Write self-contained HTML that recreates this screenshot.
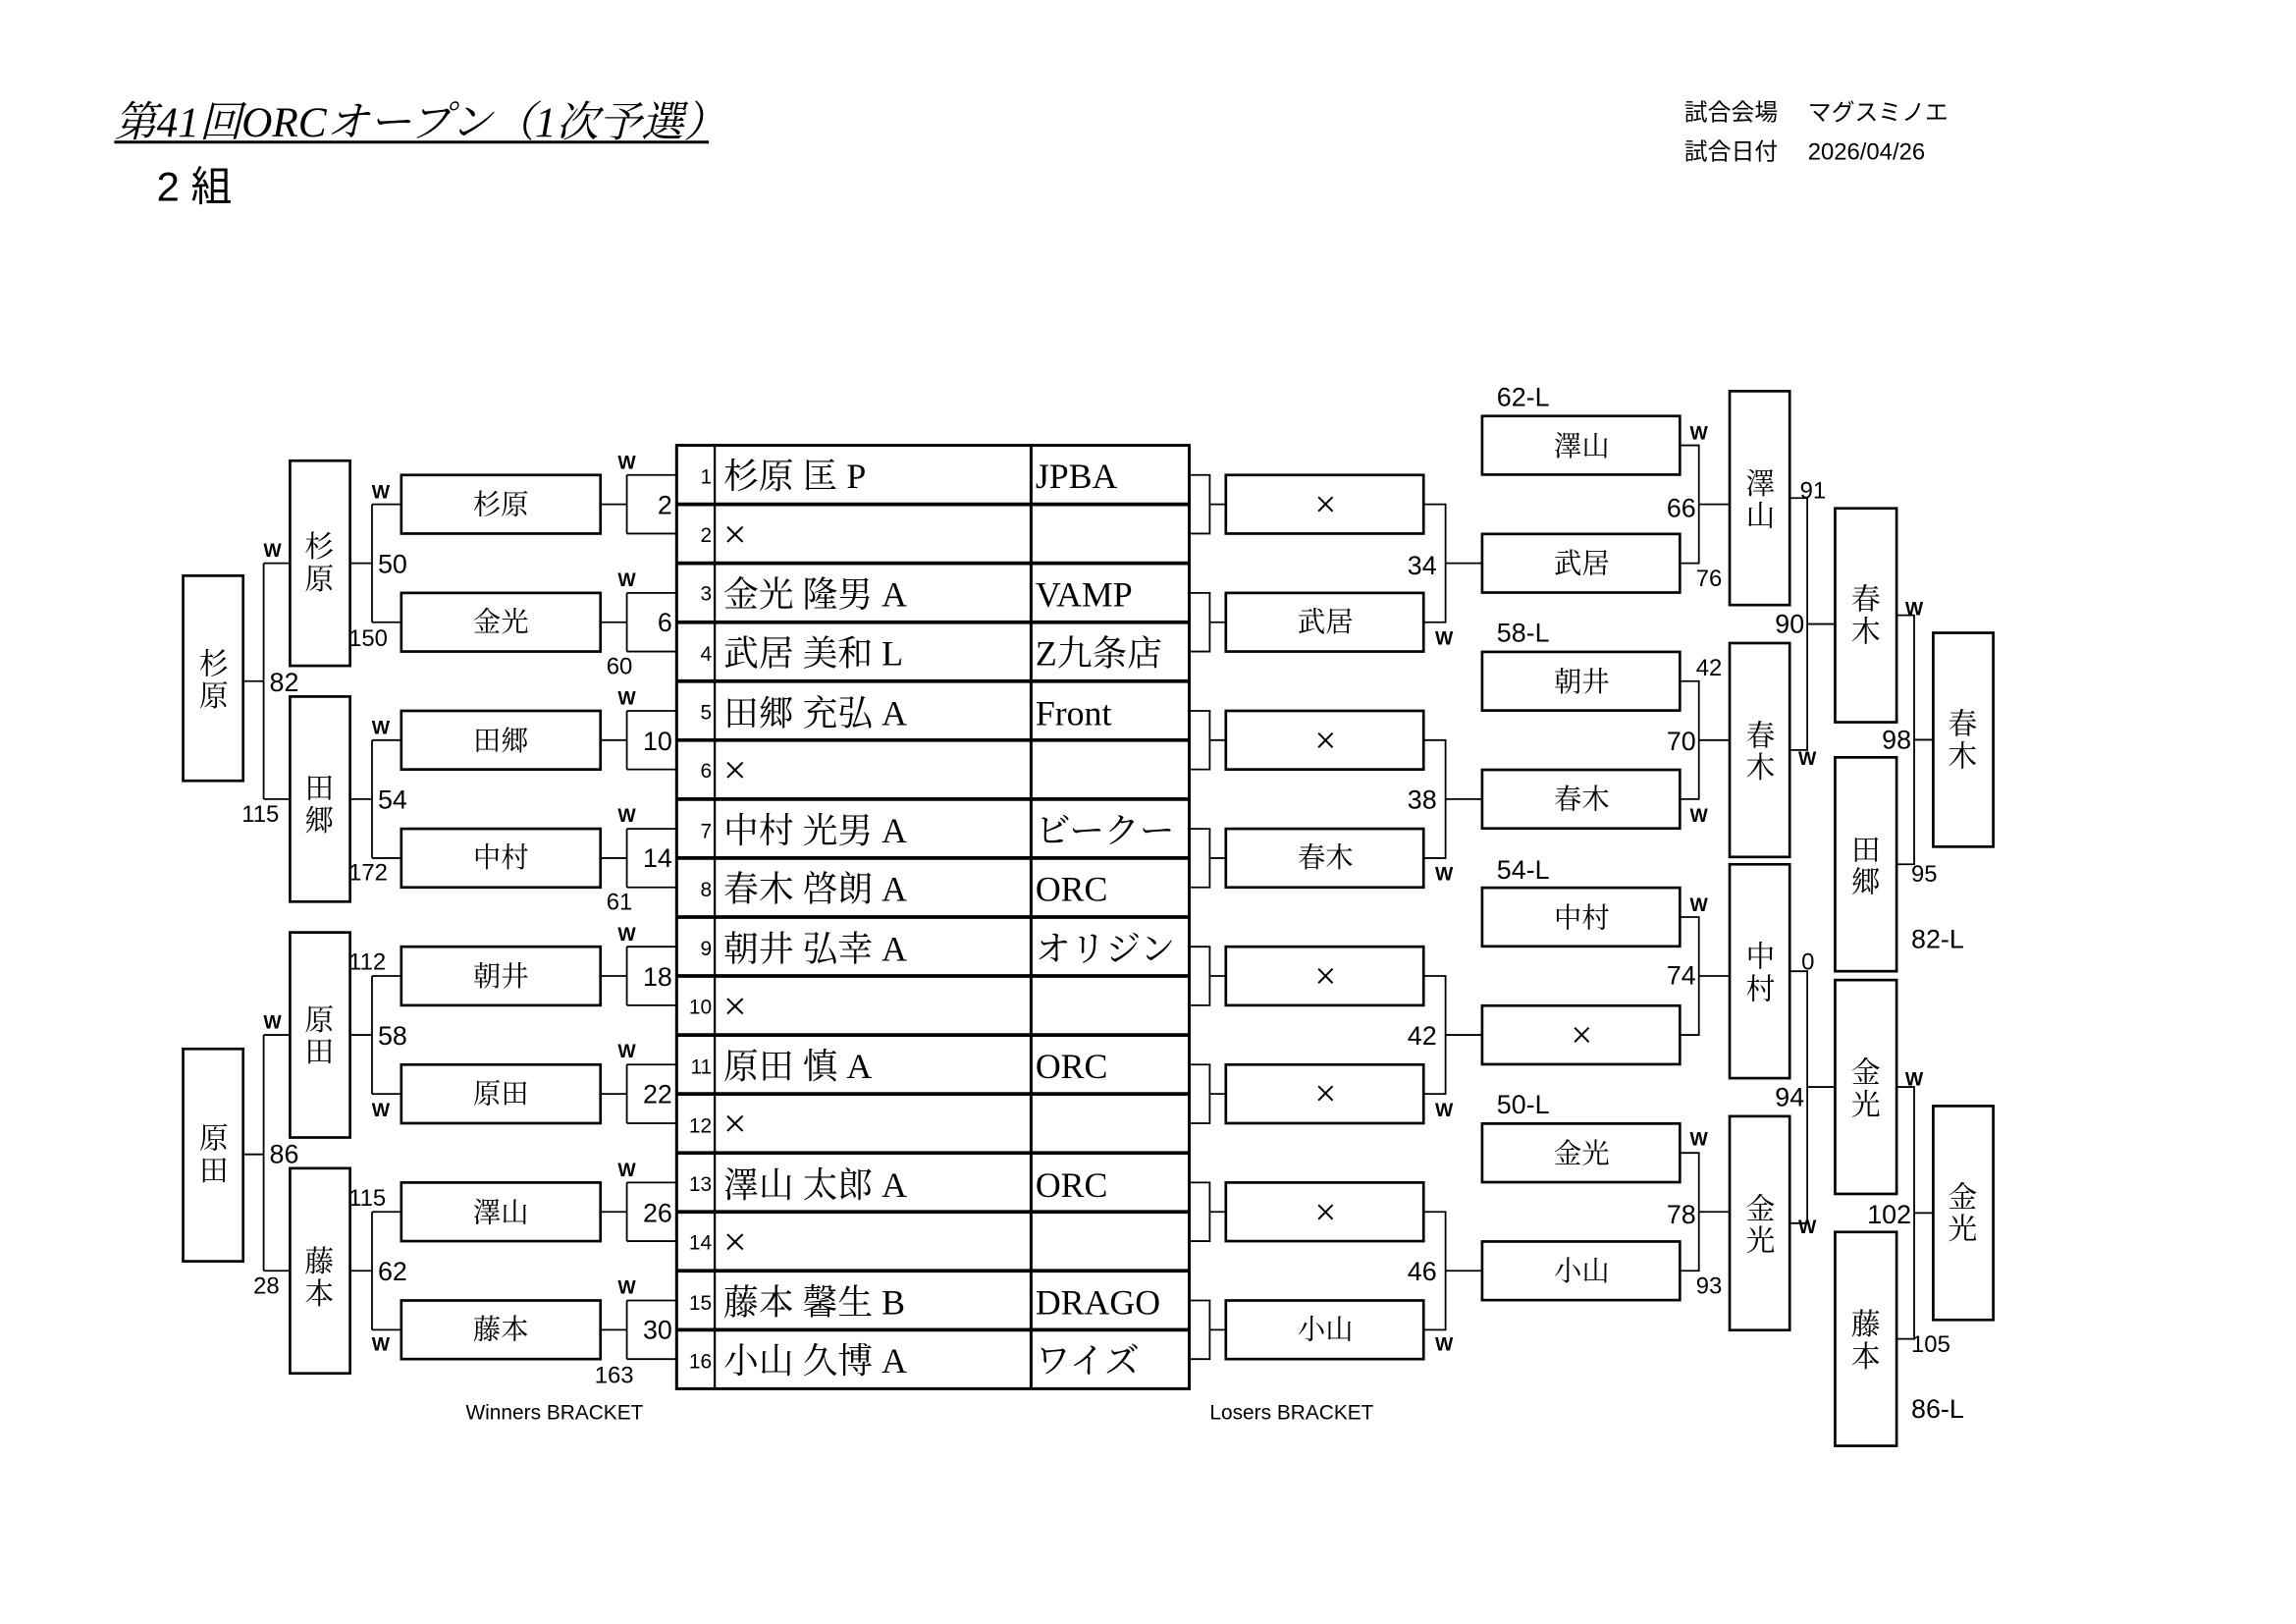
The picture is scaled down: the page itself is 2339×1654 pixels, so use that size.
<!DOCTYPE html>
<html><head><meta charset="utf-8"><style>
html,body{margin:0;padding:0;background:#fff;}
svg{display:block;}
.s{font-family:"Liberation Sans","Noto Sans CJK JP",sans-serif;}
.m{font-family:"Liberation Serif","Noto Serif CJK SC",serif;}
.n{font-family:"Liberation Sans Narrow","Liberation Sans",sans-serif;}
</style></head><body>
<svg width="2339" height="1654" viewBox="0 0 1567.7 1108.6" xmlns="http://www.w3.org/2000/svg">
<g fill="none" stroke="#000">
<rect x="462" y="304" width="350" height="644" stroke-width="2"/>
<g stroke-width="2.5">
<line x1="462" y1="344.25" x2="812" y2="344.25"/><line x1="462" y1="384.5" x2="812" y2="384.5"/><line x1="462" y1="424.75" x2="812" y2="424.75"/><line x1="462" y1="465" x2="812" y2="465"/><line x1="462" y1="505.25" x2="812" y2="505.25"/><line x1="462" y1="545.5" x2="812" y2="545.5"/><line x1="462" y1="585.75" x2="812" y2="585.75"/><line x1="462" y1="626" x2="812" y2="626"/><line x1="462" y1="666.25" x2="812" y2="666.25"/><line x1="462" y1="706.5" x2="812" y2="706.5"/><line x1="462" y1="746.75" x2="812" y2="746.75"/><line x1="462" y1="787" x2="812" y2="787"/><line x1="462" y1="827.25" x2="812" y2="827.25"/><line x1="462" y1="867.5" x2="812" y2="867.5"/><line x1="462" y1="907.75" x2="812" y2="907.75"/>
</g>
<line x1="488" y1="304" x2="488" y2="948" stroke-width="1.5"/>
<line x1="704" y1="304" x2="704" y2="948" stroke-width="2"/>

<g stroke-width="1.8">
<rect x="274" y="324.25" width="136" height="40"/><rect x="274" y="404.75" width="136" height="40"/><rect x="274" y="485.25" width="136" height="40"/><rect x="274" y="565.75" width="136" height="40"/><rect x="274" y="646.25" width="136" height="40"/><rect x="274" y="726.75" width="136" height="40"/><rect x="274" y="807.25" width="136" height="40"/><rect x="274" y="887.75" width="136" height="40"/>
<rect x="198" y="314.5" width="41" height="140"/><rect x="198" y="475.5" width="41" height="140"/><rect x="198" y="636.5" width="41" height="140"/><rect x="198" y="797.5" width="41" height="140"/>
<rect x="125" y="393" width="41" height="140"/><rect x="125" y="716" width="41" height="145"/>
<rect x="837" y="324.25" width="135" height="40"/><rect x="837" y="404.75" width="135" height="40"/><rect x="837" y="485.25" width="135" height="40"/><rect x="837" y="565.75" width="135" height="40"/><rect x="837" y="646.25" width="135" height="40"/><rect x="837" y="726.75" width="135" height="40"/><rect x="837" y="807.25" width="135" height="40"/><rect x="837" y="887.75" width="135" height="40"/>
<rect x="1012" y="284" width="135" height="40"/><rect x="1012" y="364.5" width="135" height="40"/><rect x="1012" y="445" width="135" height="40"/><rect x="1012" y="525.5" width="135" height="40"/><rect x="1012" y="606" width="135" height="40"/><rect x="1012" y="686.5" width="135" height="40"/><rect x="1012" y="767" width="135" height="40"/><rect x="1012" y="847.5" width="135" height="40"/>
<rect x="1181" y="267" width="41" height="146"/><rect x="1181" y="439" width="41" height="146"/><rect x="1181" y="590" width="41" height="146"/><rect x="1181" y="762" width="41" height="146"/>
<rect x="1253" y="347" width="42" height="146"/><rect x="1253" y="517" width="42" height="146"/><rect x="1253" y="669" width="42" height="146"/><rect x="1253" y="841" width="42" height="146"/>
<rect x="1320" y="432" width="41" height="146"/><rect x="1320" y="755" width="41" height="146"/>
</g>

<g stroke-width="1.2">
<path d="M410 344.25H428M428 324.25V364.25M428 324.25H462M428 364.25H462"/>
<path d="M410 424.75H428M428 404.75V444.75M428 404.75H462M428 444.75H462"/>
<path d="M410 505.25H428M428 485.25V525.25M428 485.25H462M428 525.25H462"/>
<path d="M410 585.75H428M428 565.75V605.75M428 565.75H462M428 605.75H462"/>
<path d="M410 666.25H428M428 646.25V686.25M428 646.25H462M428 686.25H462"/>
<path d="M410 746.75H428M428 726.75V766.75M428 726.75H462M428 766.75H462"/>
<path d="M410 827.25H428M428 807.25V847.25M428 807.25H462M428 847.25H462"/>
<path d="M410 907.75H428M428 887.75V927.75M428 887.75H462M428 927.75H462"/>
<path d="M254 344.25V424.75M254 344.25H274M254 424.75H274M239 384.5H254"/>
<path d="M254 505.25V585.75M254 505.25H274M254 585.75H274M239 545.5H254"/>
<path d="M254 666.25V746.75M254 666.25H274M254 746.75H274M239 706.5H254"/>
<path d="M254 827.25V907.75M254 827.25H274M254 907.75H274M239 867.5H254"/>
<path d="M180 384.5V545.5M180 384.5H198M180 545.5H198M166 465H180"/>
<path d="M180 706.5V867.5M180 706.5H198M180 867.5H198M166 788H180"/>
<path d="M812 324.25H826V364.25H812M826 344.25H837"/>
<path d="M812 404.75H826V444.75H812M826 424.75H837"/>
<path d="M812 485.25H826V525.25H812M826 505.25H837"/>
<path d="M812 565.75H826V605.75H812M826 585.75H837"/>
<path d="M812 646.25H826V686.25H812M826 666.25H837"/>
<path d="M812 726.75H826V766.75H812M826 746.75H837"/>
<path d="M812 807.25H826V847.25H812M826 827.25H837"/>
<path d="M812 887.75H826V927.75H812M826 907.75H837"/>
<path d="M972 344.25H987V424.75H972M987 384.5H1012"/>
<path d="M972 505.25H987V585.75H972M987 545.5H1012"/>
<path d="M972 666.25H987V746.75H972M987 706.5H1012"/>
<path d="M972 827.25H987V907.75H972M987 867.5H1012"/>
<path d="M1147 304H1160V384.5H1147M1160 344.25H1181"/>
<path d="M1147 465H1160V545.5H1147M1160 505.25H1181"/>
<path d="M1147 626H1160V706.5H1147M1160 666.25H1181"/>
<path d="M1147 787H1160V867.5H1147M1160 827.25H1181"/>
<path d="M1222 340H1234V512H1222M1234 426H1253"/>
<path d="M1222 663H1234V835H1222M1234 742H1253"/>
<path d="M1295 420H1307V590H1295M1307 505H1320"/>
<path d="M1295 742H1307V914H1295M1307 828H1320"/>
</g>
</g>

<text x="78" y="93" class="m" font-size="29" font-style="italic" fill="#000">第41回ORCオープン（1次予選）</text>
<line x1="78" y1="97" x2="484" y2="97" stroke="#000" stroke-width="2"/>
<text x="107" y="137" class="s" font-size="28" fill="#000">2 組</text>
<text x="1150" y="82" class="s" font-size="16" fill="#000">試合会場　 マグスミノエ</text>
<text x="1150" y="109" class="s" font-size="16" fill="#000">試合日付　 2026/04/26</text>

<g class="n" font-size="14" text-anchor="end" fill="#000">
<text x="486" y="330">1</text><text x="486" y="370">2</text><text x="486" y="410">3</text><text x="486" y="451">4</text><text x="486" y="491">5</text><text x="486" y="531">6</text><text x="486" y="572">7</text><text x="486" y="612">8</text><text x="486" y="652">9</text><text x="486" y="692">10</text><text x="486" y="733">11</text><text x="486" y="773">12</text><text x="486" y="813">13</text><text x="486" y="853">14</text><text x="486" y="894">15</text><text x="486" y="934">16</text>
</g>
<g class="m" font-size="24" fill="#000">
<text x="494" y="333">杉原 匡 P</text><text x="494" y="374" font-size="28">×</text><text x="494" y="414">金光 隆男 A</text><text x="494" y="454">武居 美和 L</text><text x="494" y="495">田郷 充弘 A</text><text x="494" y="535" font-size="28">×</text><text x="494" y="575">中村 光男 A</text><text x="494" y="615">春木 啓朗 A</text><text x="494" y="656">朝井 弘幸 A</text><text x="494" y="696" font-size="28">×</text><text x="494" y="736">原田 慎 A</text><text x="494" y="776" font-size="28">×</text><text x="494" y="817">澤山 太郎 A</text><text x="494" y="857" font-size="28">×</text><text x="494" y="897">藤本 馨生 B</text><text x="494" y="937">小山 久博 A</text>
<text x="707" y="333">JPBA</text><text x="707" y="414">VAMP</text><text x="707" y="454">Z九条店</text><text x="707" y="495">Front</text><text x="707" y="575">ビークー</text><text x="707" y="615">ORC</text><text x="707" y="656">オリジン</text><text x="707" y="736">ORC</text><text x="707" y="817">ORC</text><text x="707" y="897">DRAGO</text><text x="707" y="937">ワイズ</text>
</g>

<g class="m" font-size="19" text-anchor="middle" fill="#000">
<text x="342" y="351">杉原</text><text x="342" y="431">金光</text><text x="342" y="512">田郷</text><text x="342" y="592">中村</text><text x="342" y="673">朝井</text><text x="342" y="753">原田</text><text x="342" y="834">澤山</text><text x="342" y="914">藤本</text>
<text x="905" y="353" font-size="26">×</text><text x="905" y="431">武居</text><text x="905" y="514" font-size="26">×</text><text x="905" y="592">春木</text><text x="905" y="675" font-size="26">×</text><text x="905" y="755" font-size="26">×</text><text x="905" y="836" font-size="26">×</text><text x="905" y="914">小山</text>
<text x="1080" y="311">澤山</text><text x="1080" y="391">武居</text><text x="1080" y="472">朝井</text><text x="1080" y="552">春木</text><text x="1080" y="633">中村</text><text x="1080" y="715" font-size="26">×</text><text x="1080" y="794">金光</text><text x="1080" y="874">小山</text>
</g>
<g class="m" font-size="20" text-anchor="middle" fill="#000">
<text x="218" y="380">杉</text><text x="218" y="402">原</text>
<text x="218" y="545">田</text><text x="218" y="567">郷</text>
<text x="218" y="703">原</text><text x="218" y="725">田</text>
<text x="218" y="868">藤</text><text x="218" y="890">本</text>
<text x="146" y="460">杉</text><text x="146" y="482">原</text>
<text x="146" y="784">原</text><text x="146" y="806">田</text>
<text x="1202" y="337">澤</text><text x="1202" y="359">山</text>
<text x="1202" y="509">春</text><text x="1202" y="531">木</text>
<text x="1202" y="660">中</text><text x="1202" y="682">村</text>
<text x="1202" y="832">金</text><text x="1202" y="854">光</text>
<text x="1274" y="416">春</text><text x="1274" y="438">木</text>
<text x="1274" y="587">田</text><text x="1274" y="609">郷</text>
<text x="1274" y="739">金</text><text x="1274" y="761">光</text>
<text x="1274" y="911">藤</text><text x="1274" y="933">本</text>
<text x="1340" y="501">春</text><text x="1340" y="523">木</text>
<text x="1340" y="824">金</text><text x="1340" y="846">光</text>
</g>

<g class="n" font-size="13" font-weight="bold" fill="#000" text-anchor="middle">
<text x="428" y="320">W</text><text x="428" y="400">W</text><text x="428" y="481">W</text><text x="428" y="561">W</text><text x="428" y="642">W</text><text x="428" y="722">W</text><text x="428" y="803">W</text><text x="428" y="883">W</text>
<text x="260" y="340">W</text><text x="260" y="501">W</text><text x="260" y="762">W</text><text x="260" y="922">W</text>
<text x="186" y="380">W</text><text x="186" y="702">W</text>
<text x="986" y="440">W</text><text x="986" y="601">W</text><text x="986" y="762">W</text><text x="986" y="922">W</text>
<text x="1160" y="300">W</text><text x="1160" y="561">W</text><text x="1160" y="622">W</text><text x="1160" y="782">W</text>
<text x="1234" y="522">W</text><text x="1234" y="842">W</text>
<text x="1307" y="420">W</text><text x="1307" y="741">W</text>
</g>

<g class="n" font-size="18" fill="#000" text-anchor="end">
<text x="459" y="351">2</text><text x="459" y="431">6</text><text x="459" y="512">10</text><text x="459" y="592">14</text><text x="459" y="673">18</text><text x="459" y="753">22</text><text x="459" y="834">26</text><text x="459" y="914">30</text>
<text x="981" y="392">34</text><text x="981" y="552">38</text><text x="981" y="713">42</text><text x="981" y="874">46</text>
<text x="1158" y="353">66</text><text x="1158" y="512">70</text><text x="1158" y="672">74</text><text x="1158" y="835">78</text>
<text x="1232" y="432">90</text><text x="1232" y="755">94</text>
<text x="1305" y="511">98</text><text x="1305" y="835">102</text>
</g>
<g class="n" font-size="18" fill="#000">
<text x="258" y="391">50</text><text x="258" y="552">54</text><text x="258" y="713">58</text><text x="258" y="874">62</text>
<text x="184" y="472">82</text><text x="184" y="794">86</text>
<text x="1022" y="277">62-L</text><text x="1022" y="438">58-L</text><text x="1022" y="600">54-L</text><text x="1022" y="760">50-L</text>
<text x="1305" y="647">82-L</text><text x="1305" y="968">86-L</text>
</g>
<g class="n" font-size="16" fill="#000">
<text x="414" y="460">60</text><text x="414" y="621">61</text><text x="406" y="944">163</text>
<text x="238" y="441">150</text><text x="238" y="601">172</text><text x="238" y="662">112</text><text x="238" y="823">115</text>
<text x="165" y="561">115</text><text x="173" y="883">28</text>
<text x="1158" y="400">76</text><text x="1158" y="461">42</text><text x="1158" y="883">93</text>
<text x="1229" y="340">91</text><text x="1230" y="662">0</text>
<text x="1305" y="602">95</text><text x="1305" y="923">105</text>
</g>
<g class="s" font-size="14" fill="#000">
<text x="318" y="969">Winners BRACKET</text>
<text x="826" y="969">Losers BRACKET</text>
</g>
</svg>
</body></html>
